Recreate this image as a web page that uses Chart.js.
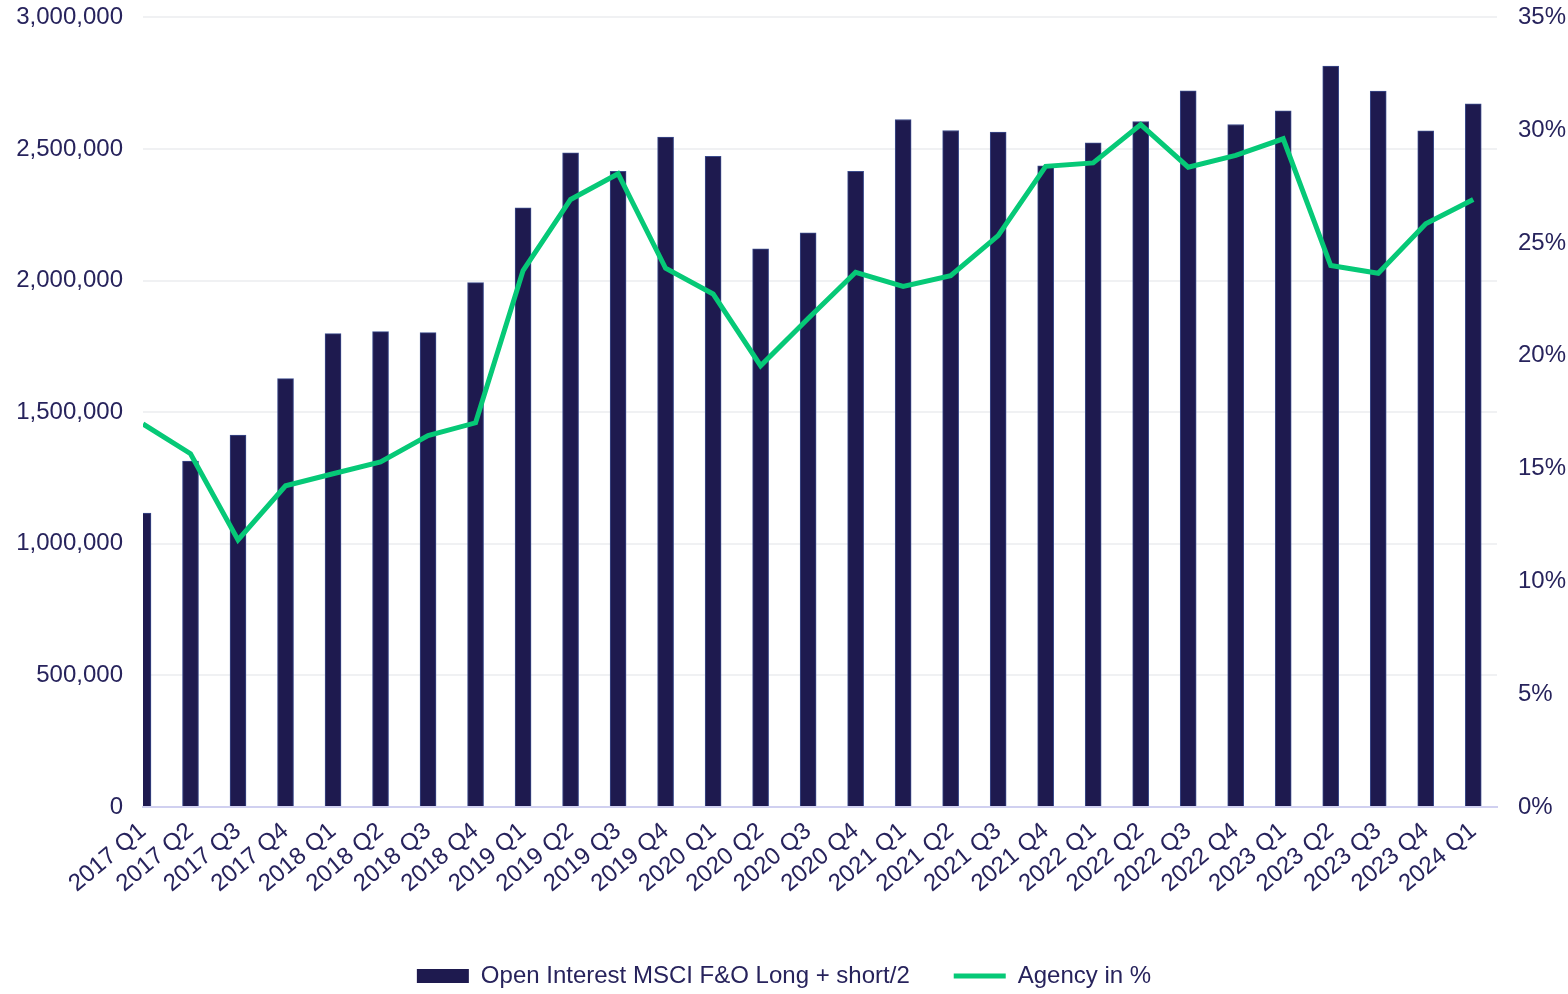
<!DOCTYPE html>
<html>
<head>
<meta charset="utf-8">
<script src="https://cdn.jsdelivr.net/npm/chart.js@4.4.1/dist/chart.umd.min.js"></script>
<style>
  html, body { margin: 0; padding: 0; background: #ffffff; overflow: hidden; }
  #wrap { width: 1568px; height: 1016px; margin-top: -18px; }
</style>
</head>
<body>
<div id="wrap"><canvas id="myChart"></canvas></div>
<script>
'use strict';

// quarters on the x axis
const quarters = [
  '2017 Q1', '2017 Q2', '2017 Q3', '2017 Q4',
  '2018 Q1', '2018 Q2', '2018 Q3', '2018 Q4',
  '2019 Q1', '2019 Q2', '2019 Q3', '2019 Q4',
  '2020 Q1', '2020 Q2', '2020 Q3', '2020 Q4',
  '2021 Q1', '2021 Q2', '2021 Q3', '2021 Q4',
  '2022 Q1', '2022 Q2', '2022 Q3', '2022 Q4',
  '2023 Q1', '2023 Q2', '2023 Q3', '2023 Q4',
  '2024 Q1'
];

// open interest (bars, left axis)
const openInterest = [
  1116700, 1314400, 1413300, 1627400,
  1798500, 1806100, 1802300, 1992400,
  2276400, 2485500, 2415600, 2544900,
  2472600, 2120500, 2181400, 2415600,
  2612200, 2570300, 2563900, 2436000,
  2523400, 2604600, 2721300, 2593200,
  2645200, 2815000, 2719900, 2569100,
  2671700
];

// agency share in % (line, right axis)
const agencyPct = [
  16.98, 15.66, 11.84, 14.24,
  14.77, 15.30, 16.46, 17.03,
  23.78, 26.93, 28.07, 23.88,
  22.74, 19.56, 21.65, 23.70,
  23.08, 23.55, 25.33, 28.40,
  28.55, 30.25, 28.36, 28.88,
  29.62, 24.00, 23.66, 25.85,
  26.93
];

// tick values
const leftTicks = [0, 500000, 1000000, 1500000, 2000000, 2500000, 3000000];
const rightTicks = [0, 5, 10, 15, 20, 25, 30, 35];

const NAVY = '#1e1a4f';
const GREEN = '#06c977';
const TEXT = '#27235c';
const FONT = { family: 'Liberation Sans, Arial, sans-serif', size: 24 };

Chart.defaults.font.family = FONT.family;
Chart.defaults.color = TEXT;

// put the data on a linear x so the first bar sits on the left edge
const barPoints = openInterest.map((v, i) => ({ x: i, y: v }));
const linePoints = agencyPct.map((v, i) => ({ x: i, y: v }));

const config = {
  data: {
    datasets: [
      {
        type: 'line',
        label: 'Agency in %',
        data: linePoints,
        yAxisID: 'y1',
        borderColor: GREEN,
        backgroundColor: GREEN,
        borderWidth: 5,
        pointRadius: 0,
        tension: 0,
        order: 1
      },
      {
        type: 'bar',
        label: 'Open Interest MSCI F&O Long + short/2',
        data: barPoints,
        yAxisID: 'y',
        backgroundColor: NAVY,
        borderColor: '#3b4b8c',
        borderWidth: 1,
        barThickness: 16,
        clip: 0,
        order: 2
      }
    ]
  },
  options: {
    responsive: true,
    maintainAspectRatio: false,
    animation: false,
    layout: { padding: { top: 0, left: 0, right: 0, bottom: 0 } },
    plugins: {
      tooltip: { enabled: false },
      legend: {
        position: 'bottom',
        labels: {
          font: FONT,
          color: TEXT,
          usePointStyle: true,
          pointStyleWidth: 52,
          boxHeight: 14,
          padding: 44,
          generateLabels: function () {
            return [
              {
                text: 'Open Interest MSCI F&O Long + short/2',
                fillStyle: NAVY, strokeStyle: NAVY, lineWidth: 0,
                pointStyle: 'rect', datasetIndex: 1, fontColor: TEXT
              },
              {
                text: 'Agency in %',
                fillStyle: GREEN, strokeStyle: GREEN, lineWidth: 5,
                pointStyle: 'line', datasetIndex: 0, fontColor: TEXT
              }
            ];
          }
        }
      }
    },
    scales: {
      x: {
        type: 'linear',
        min: 0,
        max: 28.5,
        offset: false,
        grid: { display: false, offset: false },
        border: { color: '#d0d0f0', width: 2 },
        afterBuildTicks: function (scale) {
          scale.ticks = quarters.map((q, i) => ({ value: i }));
        },
        afterFit: function (scale) { scale.height = 113; },
        ticks: {
          font: FONT,
          color: TEXT,
          autoSkip: false,
          minRotation: 40,
          maxRotation: 40,
          padding: 2,
          callback: function (v) { return quarters[v] || ''; }
        }
      },
      y: {
        position: 'left',
        min: 0,
        max: 3000000,
        afterBuildTicks: function (scale) {
          scale.ticks = leftTicks.map(v => ({ value: v }));
        },
        afterFit: function (scale) { scale.width = 143; },
        grid: { color: '#f0f1f3', lineWidth: 2, drawTicks: false },
        border: { display: false },
        ticks: {
          font: FONT,
          color: TEXT,
          padding: 20,
          callback: function (v) { return v.toLocaleString('en-US'); }
        }
      },
      y1: {
        position: 'right',
        min: 0,
        max: 35,
        afterBuildTicks: function (scale) {
          scale.ticks = rightTicks.map(v => ({ value: v }));
        },
        afterFit: function (scale) { scale.width = 71; },
        grid: { display: false, drawTicks: false },
        border: { display: false },
        ticks: {
          font: FONT,
          color: TEXT,
          padding: 21,
          callback: function (v) { return v + '%'; }
        }
      }
    }
  }
};

const ctx = document.getElementById('myChart').getContext('2d');
const myChart = new Chart(ctx, config);
</script>
</body>
</html>
